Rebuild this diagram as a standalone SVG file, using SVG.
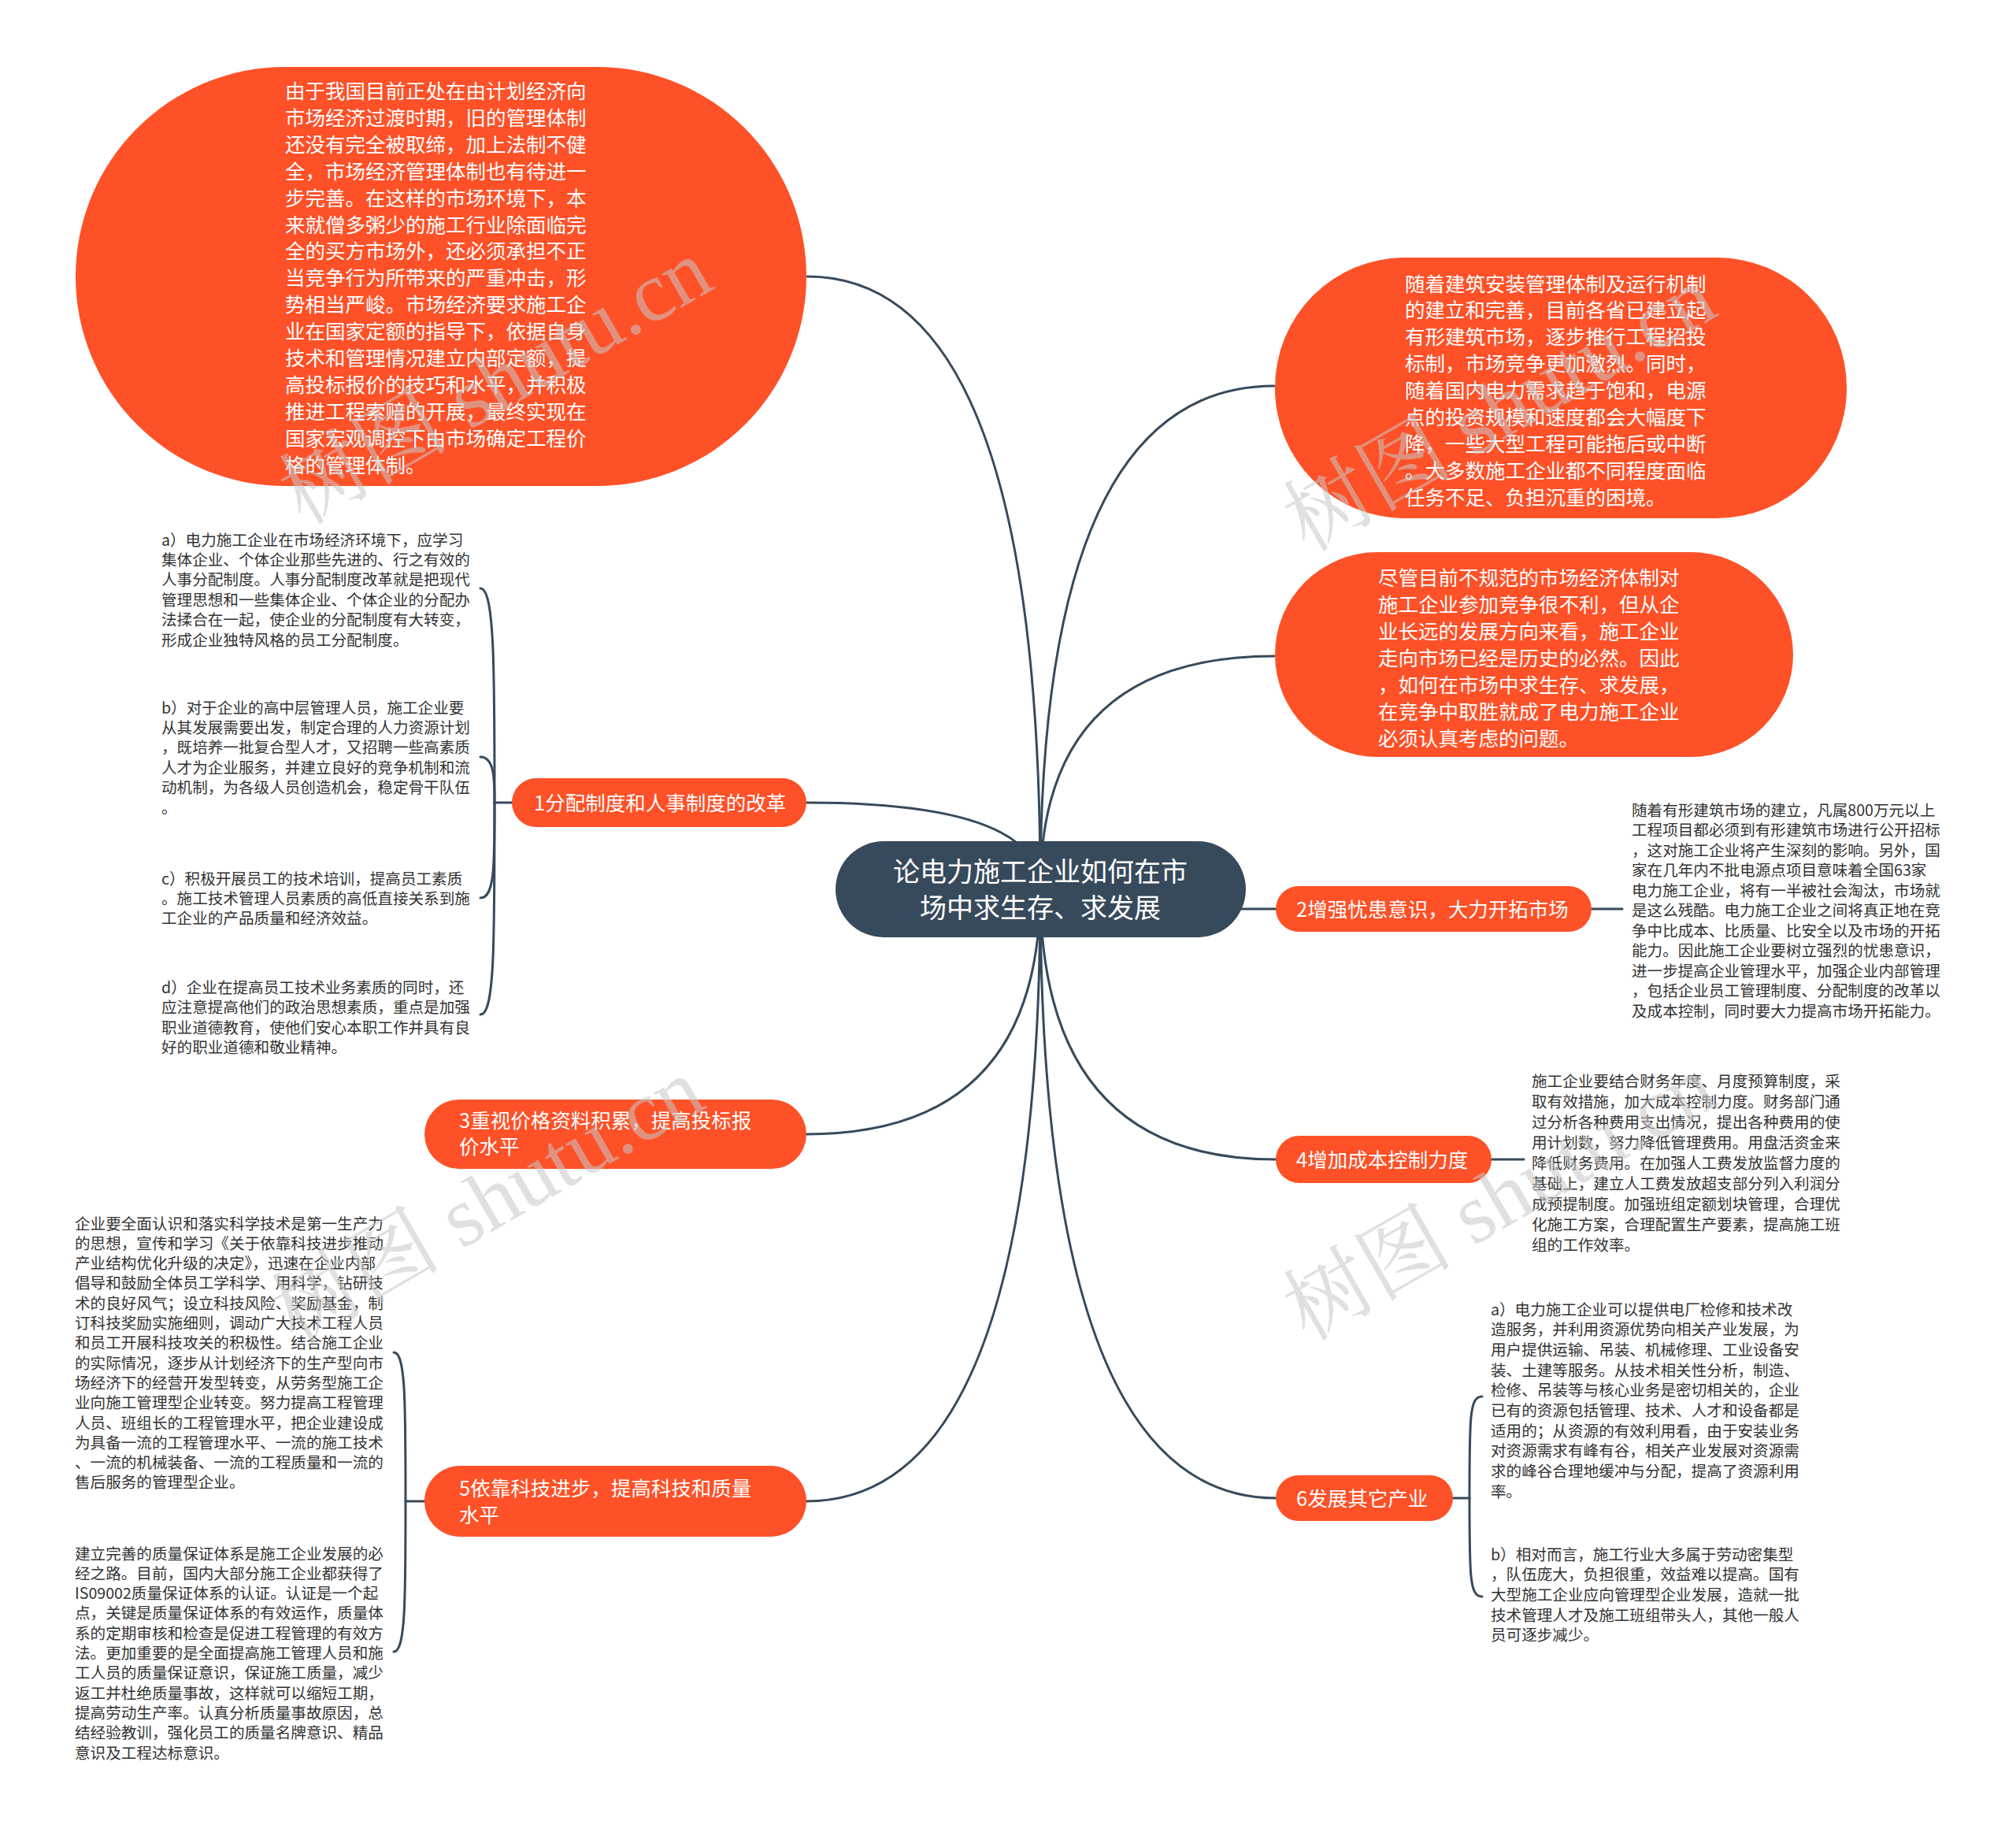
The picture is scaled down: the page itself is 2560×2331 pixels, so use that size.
<svg xmlns="http://www.w3.org/2000/svg" width="2560" height="2331" viewBox="0 0 2560 2331">
<style>
.bg{fill:#ffffff}
.org{fill:#FE5128}
.ctr{fill:#374A5B}
.ln{fill:none;stroke:#374A5B;stroke-width:3;stroke-linecap:round}
.big{font-family:"Noto Sans CJK SC","Noto Sans",sans-serif;font-size:25.5px;fill:#ffffff}
.ctt{font-family:"Noto Sans CJK SC","Noto Sans",sans-serif;font-size:34px;fill:#ffffff;text-anchor:middle}
.det{font-family:"Noto Sans CJK SC","Noto Sans",sans-serif;font-size:19.6px;fill:#333333}
.wm{font-family:"Liberation Serif","Noto Serif CJK SC","Noto Sans CJK SC",serif;font-size:108px;fill:#c8c8c8;opacity:0.55}
</style>
<rect class="bg" x="0" y="0" width="2560" height="2331"/>
<g id="connectors">
<path class="ln" d="M1025 351 Q1321 351 1321 1128"/>
<path class="ln" d="M1024 1019 Q1321 1019 1321 1128"/>
<path class="ln" d="M1618 490 Q1321 490 1321 1128"/>
<path class="ln" d="M1618 833 Q1321 833 1321 1128"/>
<path class="ln" d="M1024 1440 Q1321 1440 1321 1128"/>
<path class="ln" d="M1024 1906 Q1321 1906 1321 1128"/>
<path class="ln" d="M1620 1472 Q1321 1472 1321 1128"/>
<path class="ln" d="M1620 1902 Q1321 1902 1321 1128"/>
<path class="ln" d="M1500 1154 L1620 1154"/>
<path class="ln" d="M2021 1154 L2060 1154"/>
<path class="ln" d="M1894 1472 L1935 1472"/>
<path class="ln" d="M650 1019 L628 1019"/>
<path class="ln" d="M628 1019 C628 850 628 747 610 747"/>
<path class="ln" d="M628 1019 C628 990 628 961 610 961"/>
<path class="ln" d="M628 1019 C628 1100 628 1140 610 1140"/>
<path class="ln" d="M628 1019 C628 1200 628 1288 610 1288"/>
<path class="ln" d="M539 1906 L515 1906"/>
<path class="ln" d="M515 1906 C515 1780 515 1717 500 1717"/>
<path class="ln" d="M515 1906 C515 2030 515 2097 500 2097"/>
<path class="ln" d="M1845 1902 L1866 1902"/>
<path class="ln" d="M1866 1902 C1866 1800 1866 1773 1882 1773"/>
<path class="ln" d="M1866 1902 C1866 2000 1866 2027 1882 2027"/>
</g>
<g id="n-center">
<rect class="ctr" x="1061" y="1068" width="521" height="122" rx="61"/>
<text class="ctt"><tspan x="1321" y="1119">论电力施工企业如何在市</tspan><tspan x="1321" y="1165">场中求生存、求发展</tspan></text>
</g>
<g id="n-topleft">
<rect class="org" x="96" y="85" width="928" height="532" rx="266"/>
<text class="big"><tspan x="362" y="125">由于我国目前正处在由计划经济向</tspan><tspan x="362" y="158.9">市场经济过渡时期，旧的管理体制</tspan><tspan x="362" y="192.8">还没有完全被取缔，加上法制不健</tspan><tspan x="362" y="226.7">全，市场经济管理体制也有待进一</tspan><tspan x="362" y="260.6">步完善。在这样的市场环境下，本</tspan><tspan x="362" y="294.5">来就僧多粥少的施工行业除面临完</tspan><tspan x="362" y="328.4">全的买方市场外，还必须承担不正</tspan><tspan x="362" y="362.3">当竞争行为所带来的严重冲击，形</tspan><tspan x="362" y="396.2">势相当严峻。市场经济要求施工企</tspan><tspan x="362" y="430.1">业在国家定额的指导下，依据自身</tspan><tspan x="362" y="464">技术和管理情况建立内部定额，提</tspan><tspan x="362" y="497.9">高投标报价的技巧和水平，并积极</tspan><tspan x="362" y="531.8">推进工程索赔的开展，最终实现在</tspan><tspan x="362" y="565.7">国家宏观调控下由市场确定工程价</tspan><tspan x="362" y="599.6">格的管理体制。</tspan></text>
</g>
<g id="n-topright1">
<rect class="org" x="1619" y="327" width="726" height="331" rx="165"/>
<text class="big"><tspan x="1784" y="369.5">随着建筑安装管理体制及运行机制</tspan><tspan x="1784" y="403.4">的建立和完善，目前各省已建立起</tspan><tspan x="1784" y="437.3">有形建筑市场，逐步推行工程招投</tspan><tspan x="1784" y="471.2">标制，市场竞争更加激烈。同时，</tspan><tspan x="1784" y="505.1">随着国内电力需求趋于饱和，电源</tspan><tspan x="1784" y="539">点的投资规模和速度都会大幅度下</tspan><tspan x="1784" y="572.9">降，一些大型工程可能拖后或中断</tspan><tspan x="1784" y="606.8">。大多数施工企业都不同程度面临</tspan><tspan x="1784" y="640.7">任务不足、负担沉重的困境。</tspan></text>
</g>
<g id="n-topright2">
<rect class="org" x="1619" y="701" width="658" height="260" rx="130"/>
<text class="big"><tspan x="1750" y="742.5">尽管目前不规范的市场经济体制对</tspan><tspan x="1750" y="776.5">施工企业参加竞争很不利，但从企</tspan><tspan x="1750" y="810.5">业长远的发展方向来看，施工企业</tspan><tspan x="1750" y="844.5">走向市场已经是历史的必然。因此</tspan><tspan x="1750" y="878.5">，如何在市场中求生存、求发展，</tspan><tspan x="1750" y="912.5">在竞争中取胜就成了电力施工企业</tspan><tspan x="1750" y="946.5">必须认真考虑的问题。</tspan></text>
</g>
<g id="n1">
<rect class="org" x="650" y="988" width="374" height="62" rx="31"/>
<text class="big" x="678" y="1028.5">1分配制度和人事制度的改革</text>
</g>
<g id="n1a"><text class="det"><tspan x="205" y="692.5">a）电力施工企业在市场经济环境下，应学习</tspan><tspan x="205" y="717.9">集体企业、个体企业那些先进的、行之有效的</tspan><tspan x="205" y="743.3">人事分配制度。人事分配制度改革就是把现代</tspan><tspan x="205" y="768.7">管理思想和一些集体企业、个体企业的分配办</tspan><tspan x="205" y="794.1">法揉合在一起，使企业的分配制度有大转变，</tspan><tspan x="205" y="819.5">形成企业独特风格的员工分配制度。</tspan></text></g>
<g id="n1b"><text class="det"><tspan x="205" y="905.5">b）对于企业的高中层管理人员，施工企业要</tspan><tspan x="205" y="930.9">从其发展需要出发，制定合理的人力资源计划</tspan><tspan x="205" y="956.3">，既培养一批复合型人才，又招聘一些高素质</tspan><tspan x="205" y="981.7">人才为企业服务，并建立良好的竞争机制和流</tspan><tspan x="205" y="1007.1">动机制，为各级人员创造机会，稳定骨干队伍</tspan><tspan x="205" y="1032.5">。</tspan></text></g>
<g id="n1c"><text class="det"><tspan x="205" y="1122.5">c）积极开展员工的技术培训，提高员工素质</tspan><tspan x="205" y="1147.9">。施工技术管理人员素质的高低直接关系到施</tspan><tspan x="205" y="1173.3">工企业的产品质量和经济效益。</tspan></text></g>
<g id="n1d"><text class="det"><tspan x="205" y="1261">d）企业在提高员工技术业务素质的同时，还</tspan><tspan x="205" y="1286.4">应注意提高他们的政治思想素质，重点是加强</tspan><tspan x="205" y="1311.8">职业道德教育，使他们安心本职工作并具有良</tspan><tspan x="205" y="1337.2">好的职业道德和敬业精神。</tspan></text></g>
<g id="n2">
<rect class="org" x="1620" y="1125" width="401" height="58" rx="29"/>
<text class="big" x="1646" y="1163.5">2增强忧患意识，大力开拓市场</text>
</g>
<g id="n2a"><text class="det"><tspan x="2072" y="1035.5">随着有形建筑市场的建立，凡属800万元以上</tspan><tspan x="2072" y="1061">工程项目都必须到有形建筑市场进行公开招标</tspan><tspan x="2072" y="1086.5">，这对施工企业将产生深刻的影响。另外，国</tspan><tspan x="2072" y="1112">家在几年内不批电源点项目意味着全国63家</tspan><tspan x="2072" y="1137.5">电力施工企业，将有一半被社会淘汰，市场就</tspan><tspan x="2072" y="1163">是这么残酷。电力施工企业之间将真正地在竞</tspan><tspan x="2072" y="1188.5">争中比成本、比质量、比安全以及市场的开拓</tspan><tspan x="2072" y="1214">能力。因此施工企业要树立强烈的忧患意识，</tspan><tspan x="2072" y="1239.5">进一步提高企业管理水平，加强企业内部管理</tspan><tspan x="2072" y="1265">，包括企业员工管理制度、分配制度的改革以</tspan><tspan x="2072" y="1290.5">及成本控制，同时要大力提高市场开拓能力。</tspan></text></g>
<g id="n3">
<rect class="org" x="539" y="1396" width="485" height="88" rx="44"/>
<text class="big"><tspan x="583" y="1431.5">3重视价格资料积累，提高投标报</tspan><tspan x="583" y="1465">价水平</tspan></text>
</g>
<g id="n4">
<rect class="org" x="1620" y="1442" width="274" height="60" rx="30"/>
<text class="big" x="1646" y="1481.5">4增加成本控制力度</text>
</g>
<g id="n4a"><text class="det"><tspan x="1945" y="1379.5">施工企业要结合财务年度、月度预算制度，采</tspan><tspan x="1945" y="1405.5">取有效措施，加大成本控制力度。财务部门通</tspan><tspan x="1945" y="1431.5">过分析各种费用支出情况，提出各种费用的使</tspan><tspan x="1945" y="1457.5">用计划数，努力降低管理费用。用盘活资金来</tspan><tspan x="1945" y="1483.5">降低财务费用。在加强人工费发放监督力度的</tspan><tspan x="1945" y="1509.5">基础上，建立人工费发放超支部分列入利润分</tspan><tspan x="1945" y="1535.5">成预提制度。加强班组定额划块管理，合理优</tspan><tspan x="1945" y="1561.5">化施工方案，合理配置生产要素，提高施工班</tspan><tspan x="1945" y="1587.5">组的工作效率。</tspan></text></g>
<g id="n5">
<rect class="org" x="539" y="1861" width="485" height="90" rx="45"/>
<text class="big"><tspan x="583" y="1898.5">5依靠科技进步，提高科技和质量</tspan><tspan x="583" y="1932.5">水平</tspan></text>
</g>
<g id="n5a"><text class="det"><tspan x="95" y="1560.5">企业要全面认识和落实科学技术是第一生产力</tspan><tspan x="95" y="1585.8">的思想，宣传和学习《关于依靠科技进步推动</tspan><tspan x="95" y="1611.1">产业结构优化升级的决定》，迅速在企业内部</tspan><tspan x="95" y="1636.4">倡导和鼓励全体员工学科学、用科学，钻研技</tspan><tspan x="95" y="1661.7">术的良好风气；设立科技风险、奖励基金，制</tspan><tspan x="95" y="1687">订科技奖励实施细则，调动广大技术工程人员</tspan><tspan x="95" y="1712.3">和员工开展科技攻关的积极性。结合施工企业</tspan><tspan x="95" y="1737.6">的实际情况，逐步从计划经济下的生产型向市</tspan><tspan x="95" y="1762.9">场经济下的经营开发型转变，从劳务型施工企</tspan><tspan x="95" y="1788.2">业向施工管理型企业转变。努力提高工程管理</tspan><tspan x="95" y="1813.5">人员、班组长的工程管理水平，把企业建设成</tspan><tspan x="95" y="1838.8">为具备一流的工程管理水平、一流的施工技术</tspan><tspan x="95" y="1864.1">、一流的机械装备、一流的工程质量和一流的</tspan><tspan x="95" y="1889.4">售后服务的管理型企业。</tspan></text></g>
<g id="n5b"><text class="det"><tspan x="95" y="1979.5">建立完善的质量保证体系是施工企业发展的必</tspan><tspan x="95" y="2004.8">经之路。目前，国内大部分施工企业都获得了</tspan><tspan x="95" y="2030.1">IS09002质量保证体系的认证。认证是一个起</tspan><tspan x="95" y="2055.4">点，关键是质量保证体系的有效运作，质量体</tspan><tspan x="95" y="2080.7">系的定期审核和检查是促进工程管理的有效方</tspan><tspan x="95" y="2106">法。更加重要的是全面提高施工管理人员和施</tspan><tspan x="95" y="2131.3">工人员的质量保证意识，保证施工质量，减少</tspan><tspan x="95" y="2156.6">返工并杜绝质量事故，这样就可以缩短工期，</tspan><tspan x="95" y="2181.9">提高劳动生产率。认真分析质量事故原因，总</tspan><tspan x="95" y="2207.2">结经验教训，强化员工的质量名牌意识、精品</tspan><tspan x="95" y="2232.5">意识及工程达标意识。</tspan></text></g>
<g id="n6">
<rect class="org" x="1620" y="1873" width="225" height="58" rx="29"/>
<text class="big" x="1646" y="1911.5">6发展其它产业</text>
</g>
<g id="n6a"><text class="det"><tspan x="1893" y="1669.5">a）电力施工企业可以提供电厂检修和技术改</tspan><tspan x="1893" y="1695.2">造服务，并利用资源优势向相关产业发展，为</tspan><tspan x="1893" y="1720.9">用户提供运输、吊装、机械修理、工业设备安</tspan><tspan x="1893" y="1746.6">装、土建等服务。从技术相关性分析，制造、</tspan><tspan x="1893" y="1772.3">检修、吊装等与核心业务是密切相关的，企业</tspan><tspan x="1893" y="1798">已有的资源包括管理、技术、人才和设备都是</tspan><tspan x="1893" y="1823.7">适用的；从资源的有效利用看，由于安装业务</tspan><tspan x="1893" y="1849.4">对资源需求有峰有谷，相关产业发展对资源需</tspan><tspan x="1893" y="1875.1">求的峰谷合理地缓冲与分配，提高了资源利用</tspan><tspan x="1893" y="1900.8">率。</tspan></text></g>
<g id="n6b"><text class="det"><tspan x="1893" y="1980.5">b）相对而言，施工行业大多属于劳动密集型</tspan><tspan x="1893" y="2006.2">，队伍庞大，负担很重，效益难以提高。国有</tspan><tspan x="1893" y="2031.9">大型施工企业应向管理型企业发展，造就一批</tspan><tspan x="1893" y="2057.6">技术管理人才及施工班组带头人，其他一般人</tspan><tspan x="1893" y="2083.3">员可逐步减少。</tspan></text></g>
<g id="watermarks">
<text class="wm" transform="translate(385 668) rotate(-30)">树图 shutu.cn</text>
<text class="wm" transform="translate(1660 702) rotate(-30)">树图 shutu.cn</text>
<text class="wm" transform="translate(375 1708) rotate(-30)">树图 shutu.cn</text>
<text class="wm" transform="translate(1660 1704) rotate(-30)">树图 shutu.cn</text>
</g>
</svg>
